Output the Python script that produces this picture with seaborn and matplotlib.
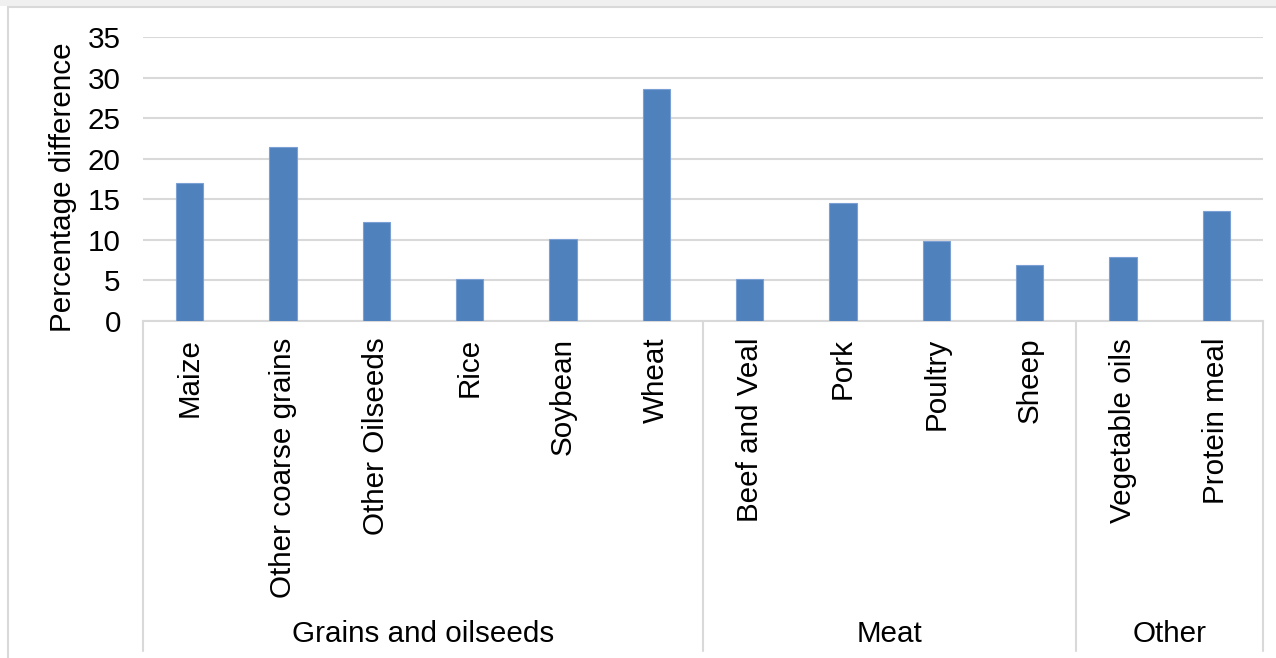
import matplotlib
matplotlib.use("Agg")
import matplotlib.pyplot as plt
import matplotlib.transforms as mtransforms
from matplotlib.lines import Line2D
from matplotlib.patches import Rectangle
import seaborn as sns
import pandas as pd

categories = ["Maize", "Other coarse grains", "Other Oilseeds", "Rice", "Soybean", "Wheat",
              "Beef and Veal", "Pork", "Poultry", "Sheep", "Vegetable oils", "Protein meal"]
values = [17.0, 21.4, 12.2, 5.2, 10.1, 28.6, 5.2, 14.5, 9.9, 6.9, 7.9, 13.6]
groups = ["Grains and oilseeds", "Meat", "Other"]
group_sizes = [6, 4, 2]
yticks = [0, 5, 10, 15, 20, 25, 30, 35]

sns.set_theme(style="white")
plt.rcParams["font.family"] = ["Liberation Sans", "DejaVu Sans"]

FS = 21.3
W, H = 1276, 658
fig = plt.figure(figsize=(W / 100, H / 100), dpi=100)
fig.patch.set_facecolor("white")

# screenshot frame: grey band and border lines
fig.add_artist(Rectangle((0, 1 - 6 / H), 1, 6 / H, transform=fig.transFigure,
                         facecolor="#f0f0f0", edgecolor="none"))
fig.add_artist(Line2D([8 / W, 1], [1 - 7 / H, 1 - 7 / H], transform=fig.transFigure,
                      color="#d9d9d9", lw=1.5))
fig.add_artist(Line2D([8 / W, 8 / W], [0, 1 - 7 / H], transform=fig.transFigure,
                      color="#d9d9d9", lw=1.5))

left, right = 143 / W, 1263 / W
top, bottom = 1 - 37 / H, 1 - 321 / H
ax = fig.add_axes([left, bottom, right - left, top - bottom])

df = pd.DataFrame({"cat": categories, "val": values})
sns.barplot(data=df, x="cat", y="val", order=categories, color="#4f81bd",
            saturation=1, width=0.29, edgecolor="#7aa0d4", linewidth=0.8, ax=ax, zorder=3)

ax.set_ylim(0, 35)
ax.set_xlim(-0.5, len(categories) - 0.5)
ax.set_yticks(yticks)
ax.set_yticklabels([str(t) for t in yticks], fontsize=FS, color="black")
ax.yaxis.grid(True, color="#d9d9d9", lw=1.5, zorder=0)
ax.set_axisbelow(True)
for s in ["top", "right", "left"]:
    ax.spines[s].set_visible(False)
ax.spines["bottom"].set_color("#d9d9d9")
ax.spines["bottom"].set_linewidth(1.5)
ax.tick_params(axis="y", length=0, pad=16)
ax.tick_params(axis="x", length=0, pad=12)
ax.set_xticks(range(len(categories)))
ax.set_xticklabels(categories, rotation=90, fontsize=FS, color="black")
ax.set_xlabel("")
ax.set_ylabel("Percentage difference", fontsize=FS, color="black")
ax.yaxis.set_label_coords((77 - 143) / 1120, (321 - 187.5) / 284)

# group separators and labels
trans = mtransforms.blended_transform_factory(ax.transData, ax.transAxes)
axh = 321 - 37
sep_bottom = (321 - 651) / axh
lab_y = (321 - 634) / axh
edges = [-0.5]
for n in group_sizes:
    edges.append(edges[-1] + n)
for e in edges:
    ax.add_line(Line2D([e, e], [0, sep_bottom], transform=trans, color="#d9d9d9",
                       lw=1.5, clip_on=False))
for g, a, b in zip(groups, edges[:-1], edges[1:]):
    ax.text((a + b) / 2, lab_y, g, transform=trans, ha="center", va="center",
            fontsize=FS, color="black", clip_on=False)

fig.savefig("out.png", dpi=100)
